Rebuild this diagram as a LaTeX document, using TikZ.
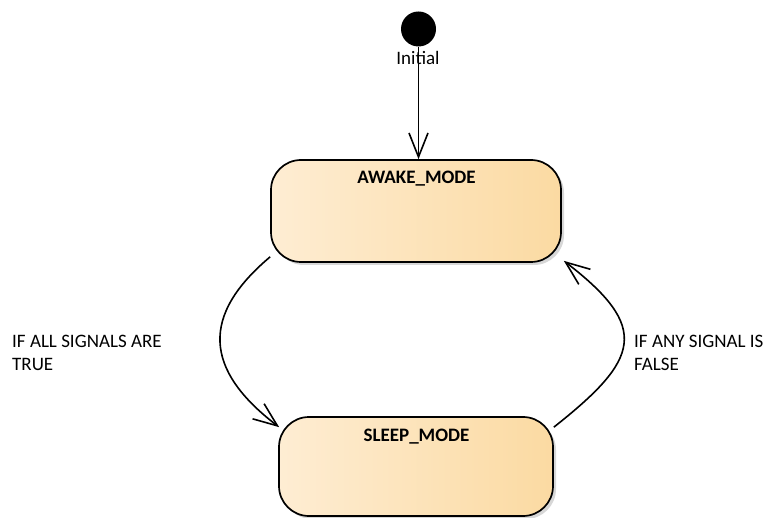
\documentclass[tikz,border=0pt]{standalone}
\usepackage{fontspec}
\setmainfont{Carlito}
\usetikzlibrary{arrows.meta,calc,shadows}

\definecolor{stateleft}{RGB}{254,237,211}
\definecolor{stateright}{RGB}{251,218,162}
\definecolor{stateshadow}{RGB}{215,215,215}

\tikzset{
  statebox/.style={draw=black, line width=1.7pt, rounded corners=30pt,
    left color=stateleft, right color=stateright, shading angle=90,
    drop shadow={shadow xshift=3pt, shadow yshift=-3pt, fill=stateshadow, opacity=1}},
  statetitle/.style={font=\fontsize{19}{23}\selectfont\bfseries, inner sep=0pt, anchor=base},
  guard/.style={font=\fontsize{19}{23}\selectfont, align=left, inner sep=0pt, anchor=north west},
  flow/.style={line width=1.6pt, -{Straight Barb[length=24pt,width=19pt,line width=1.6pt]}},
}

\begin{document}
\begin{tikzpicture}[x=1pt,y=-1pt]
  \useasboundingbox (0,0) rectangle (763,518);

  % initial pseudo-state
  \node[circle, fill=black, minimum size=35pt, inner sep=0pt] (init) at (418.5,29) {};
  \node[font=\fontsize{19}{23}\selectfont, inner sep=0pt, anchor=base] (initlabel) at (418,65) {Initial};

  % states
  \node[statebox, minimum width=290pt, minimum height=102pt] (awake) at (416,211) {};
  \node[statetitle] (awaketitle) at (416.5,184) {AWAKE\_MODE};

  \node[statebox, minimum width=274pt, minimum height=99pt] (sleep) at (416,466.5) {};
  \node[statetitle] (sleeptitle) at (416.5,441) {SLEEP\_MODE};

  % guard texts
  \node[guard] (guardall) at (12,335) {IF ALL SIGNALS ARE\\TRUE};
  \node[guard] (guardany) at (634,335) {IF ANY SIGNAL IS\\FALSE};

  % transitions
  \draw[flow] (init.south) -- (init.south |- awake.north);

  \coordinate (a1) at ($(awake.south west)+(0,-6)$);
  \coordinate (s1) at ($(sleep.north west)+(1,11)$);
  \draw[flow] (a1) .. controls +(-69,58) and +(-76,-58) .. (s1);

  \coordinate (s2) at ($(sleep.north east)+(0,11)$);
  \coordinate (a2) at ($(awake.south east)+(2,-2)$);
  \draw[flow] (s2) .. controls +(86,-68) and +(87,67) .. (a2);
\end{tikzpicture}
\end{document}
